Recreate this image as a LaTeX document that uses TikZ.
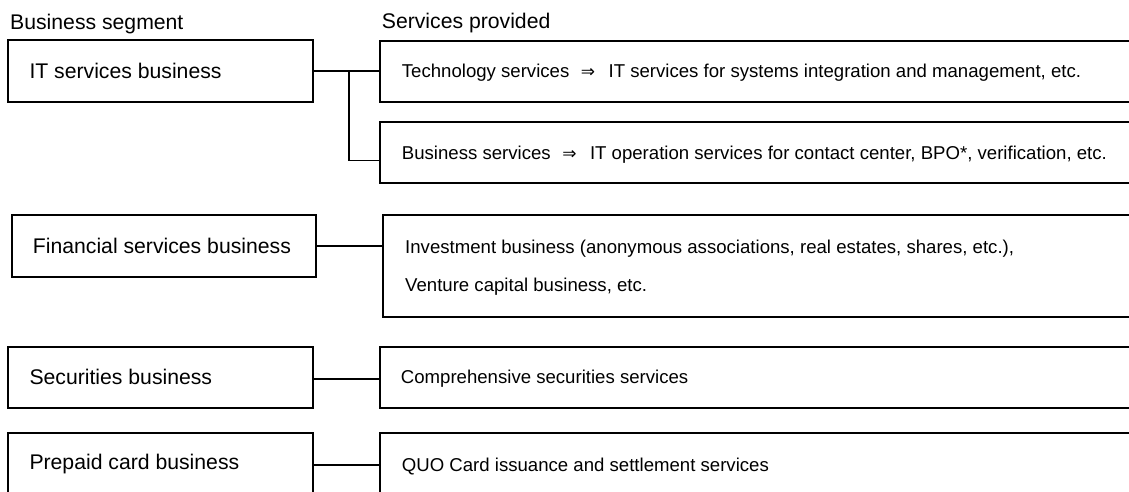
\documentclass[tikz,border=0pt]{standalone}
\usepackage{fontspec}
\setmainfont{Liberation Sans}
\newfontfamily\arrowfont{DejaVu Sans}
\usetikzlibrary{calc}
\newcommand{\implies}{\hspace{11.5pt}{\arrowfont\fontsize{17}{20}\selectfont ⇒}\hspace{13.5pt}}
\begin{document}
\begin{tikzpicture}[x=1pt,y=-1pt,
  frame/.style={draw=black, line width=1.4pt, inner sep=0pt, outer sep=0pt,
                rectangle, anchor=north west},
  segtext/.style={inner sep=0pt, anchor=base west, font=\fontsize{21.2}{25}\selectfont},
  svctext/.style={inner sep=0pt, anchor=base west, font=\fontsize{18.6}{22}\selectfont},
  link/.style={draw=black, line width=1.4pt}]
\useasboundingbox (0,0) rectangle (1129,491);
\clip (0,0) rectangle (1129,491);

% column headings
\node[segtext] (hseg) at (10,29) {Business segment};
\node[segtext] (hsvc) at (381.7,28.5) {Services provided};

% business segment boxes
\node[frame, minimum width=305pt, minimum height=62pt] (it)   at (8,40)   {};
\node[frame, minimum width=304pt, minimum height=62pt] (fin)  at (12,215) {};
\node[frame, minimum width=305pt, minimum height=61pt] (sec)  at (8,347)  {};
\node[frame, minimum width=305pt, minimum height=64pt] (pre)  at (8,433)  {};

% service boxes (running past the right edge)
\node[frame, minimum width=780pt, minimum height=61pt]  (tech)   at (380,41)  {};
\node[frame, minimum width=780pt, minimum height=61pt]  (bizsvc) at (380,122) {};
\node[frame, minimum width=780pt, minimum height=102pt] (inv)    at (383,215) {};
\node[frame, minimum width=780pt, minimum height=61pt]  (comp)   at (380,347) {};
\node[frame, minimum width=780pt, minimum height=64pt]  (quo)    at (380,433) {};

% segment labels
\node[segtext] (tit)  at (29.3,78.3)  {IT services business};
\node[segtext] (tfin) at (32.7,253.3) {Financial services business};
\node[segtext] (tsec) at (29.3,384)   {Securities business};
\node[segtext] (tpre) at (29.3,469.3) {Prepaid card business};

% service labels
\node[svctext] (ttech) at (401.7,77.3) {Technology services\implies IT services for systems integration and management, etc.};
\node[svctext] (tbiz)  at (401.7,159)  {Business services\implies IT operation services for contact center, BPO*, verification, etc.};
\node[svctext] (tinv1) at (405,253.3)  {Investment business (anonymous associations, real estates, shares, etc.),};
\node[svctext] (tinv2) at (405,291.7)  {Venture capital business, etc.};
\node[svctext] (tcomp) at (400.7,383.3) {Comprehensive securities services};
\node[svctext] (tquo)  at (401.7,471)  {QUO Card issuance and settlement services};

% connectors
\coordinate (jn) at ($(it.east)!0.54!(it.east -| tech.west)$);
\draw[link] (it.east) -- (it.east -| tech.west);
\draw[link] (jn) |- ([yshift=-8pt]bizsvc.west);
\draw[link] (fin.east) -- (fin.east -| inv.west);
\draw[link] ([yshift=-1.5pt]sec.east) -- ([yshift=-1.5pt]sec.east -| comp.west);
\draw[link] (pre.east) -- (pre.east -| quo.west);
\end{tikzpicture}
\end{document}
